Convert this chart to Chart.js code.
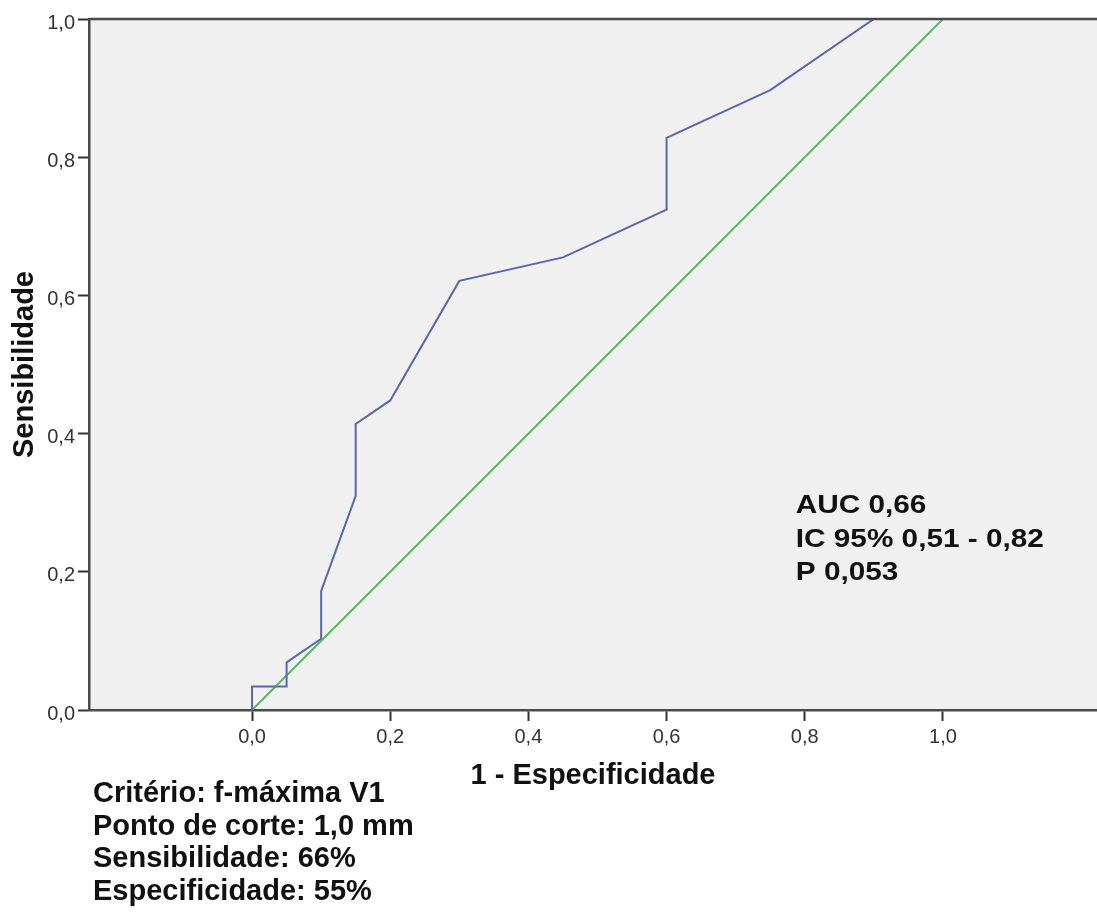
<!DOCTYPE html>
<html>
<head>
<meta charset="utf-8">
<script src="https://cdn.jsdelivr.net/npm/chart.js@4/dist/chart.umd.min.js"></script>
<style>
  html, body { margin: 0; padding: 0; background: #fff; overflow: hidden; }
  #wrap { position: relative; width: 1097px; height: 914px; }
</style>
</head>
<body>
<div id="wrap"><canvas id="roc"></canvas></div>
<script>
// ROC curve (1 - specificity, sensitivity)
const fpr = [0, 0, 0.05, 0.05, 0.10, 0.10, 0.15, 0.15, 0.20, 0.30, 0.45, 0.60, 0.60, 0.75, 0.90, 1.00];
const tpr = [0, 0.034, 0.034, 0.069, 0.103, 0.172, 0.310, 0.414, 0.448, 0.621, 0.655, 0.724, 0.828, 0.897, 1.00, 1.00];
const refX = [0, 1];
const refY = [0, 1];
const xTicks = [0, 0.2, 0.4, 0.6, 0.8, 1.0];
const yTicks = [0, 0.2, 0.4, 0.6, 0.8, 1.0];
const statsLines = ["AUC 0,66", "IC 95% 0,51 - 0,82", "P 0,053"];
const noteLines = ["Critério: f-máxima V1", "Ponto de corte: 1,0 mm", "Sensibilidade: 66%", "Especificidade: 55%"];

const FONT = "'Liberation Sans', Arial, sans-serif";
const fmt = v => v.toFixed(1).replace(".", ",");

const plotDecor = {
  id: "plotDecor",
  beforeDraw(chart) {
    const { ctx, chartArea: a } = chart;
    ctx.save();
    ctx.fillStyle = "#f0f0f0";
    ctx.fillRect(a.left, a.top, a.right - a.left, a.bottom - a.top);
    ctx.restore();
  },
  afterDraw(chart) {
    const { ctx, chartArea: a, scales } = chart;
    ctx.save();
    // top frame line
    ctx.strokeStyle = "#4a4a4a";
    ctx.lineWidth = 2.5;
    ctx.beginPath();
    ctx.moveTo(a.left, a.top);
    ctx.lineTo(a.right, a.top);
    ctx.stroke();

    // stats box inside the plot
    ctx.fillStyle = "#111";
    ctx.font = "bold 25px " + FONT;
    ctx.textBaseline = "alphabetic";
    const sx = scales.x.getPixelForValue(0.787);
    let sy = scales.y.getPixelForValue(0.285);
    statsLines.forEach(t => {
      ctx.save();
      ctx.translate(sx, sy);
      ctx.scale(1.19, 1);
      ctx.fillText(t, 0, 0);
      ctx.restore();
      sy += 33.5;
    });

    // criteria note under the plot
    ctx.font = "bold 29px " + FONT;
    let ny = a.bottom + 92;
    noteLines.forEach(t => {
      ctx.fillText(t, 93, ny);
      ny += 32.7;
    });
    ctx.restore();
  }
};

const tickStyle = { size: 20, family: FONT };
const titleStyle = { size: 29, weight: "bold", family: FONT };

new Chart(document.getElementById("roc"), {
  type: "scatter",
  data: {
    datasets: [
      {
        data: fpr.map((x, i) => ({ x, y: tpr[i] })),
        showLine: true, borderColor: "#5a67a6", borderWidth: 2,
        pointRadius: 0, tension: 0
      },
      {
        data: refX.map((x, i) => ({ x, y: refY[i] })),
        showLine: true, borderColor: "#4fbd5b", borderWidth: 2,
        pointRadius: 0, tension: 0
      }
    ]
  },
  options: {
    responsive: true,
    maintainAspectRatio: false,
    animation: false,
    layout: { padding: { top: 19, bottom: 119, left: 0, right: 0 } },
    plugins: { legend: { display: false }, tooltip: { enabled: false } },
    scales: {
      x: {
        type: "linear", min: -0.236, max: 1.223,
        afterBuildTicks: s => { s.ticks = xTicks.map(v => ({ value: v })); },
        afterFit: s => { s.height = 85; },
        ticks: { font: tickStyle, color: "#333", padding: 4, maxRotation: 0, callback: v => fmt(v) },
        grid: { drawOnChartArea: false, drawTicks: true, tickLength: 11, tickColor: "#333", tickWidth: 2 },
        border: { color: "#4a4a4a", width: 2.5 },
        title: { display: true, text: "1 - Especificidade", font: titleStyle, color: "#111", padding: { top: 0, bottom: 2 } }
      },
      y: {
        type: "linear", min: 0, max: 1,
        afterBuildTicks: s => { s.ticks = yTicks.map(v => ({ value: v })); },
        afterFit: s => { s.width = 89; },
        ticks: { font: tickStyle, color: "#333", padding: 3, labelOffset: 4, callback: v => fmt(v) },
        grid: { drawOnChartArea: false, drawTicks: true, tickLength: 11, tickColor: "#333", tickWidth: 2 },
        border: { color: "#4a4a4a", width: 2.5 },
        title: { display: true, text: "Sensibilidade", font: titleStyle, color: "#111", padding: { top: 8, bottom: 0 } }
      }
    }
  },
  plugins: [plotDecor]
});
</script>
</body>
</html>
